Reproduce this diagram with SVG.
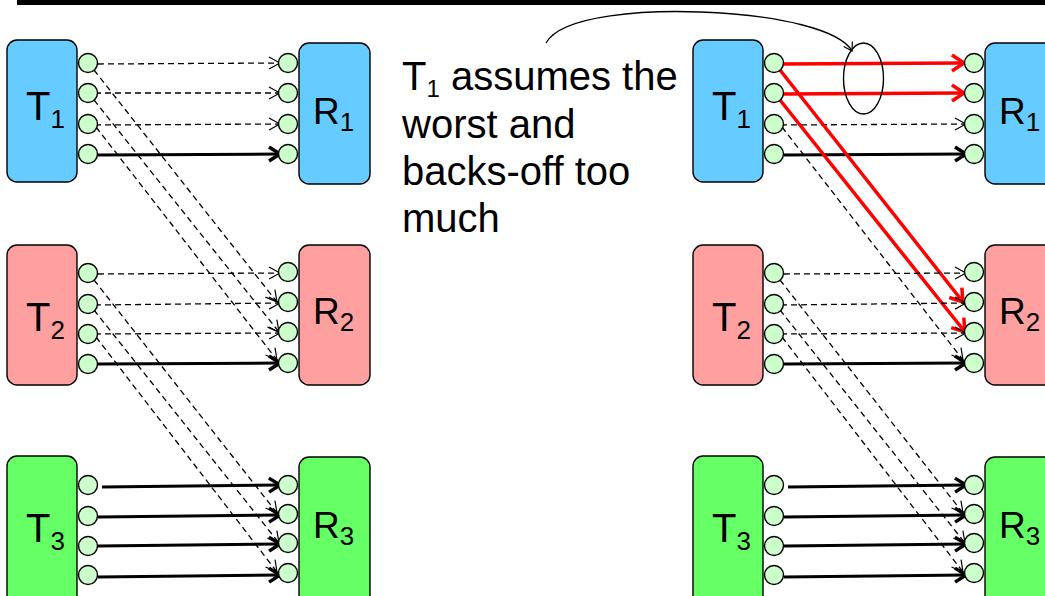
<svg xmlns="http://www.w3.org/2000/svg" width="1045" height="596" viewBox="0 0 1045 596">
<style>
.box{stroke:#000;stroke-width:1.4}
.tb{fill:#66ccff}.pb{fill:#ffa0a0}.gb{fill:#66ff66}
.port{fill:#ccffcc;stroke:#000;stroke-width:1.4}
.lbl{font-family:"Liberation Sans",Arial,sans-serif;fill:#000}
.d{fill:none;stroke:#000;stroke-width:1.3;stroke-dasharray:6 4;marker-end:url(#mt)}
.s{fill:none;stroke:#000;stroke-width:3;marker-end:url(#mk)}
.r{fill:none;stroke:#ff0000;stroke-width:3.5;marker-end:url(#mr)}
</style>
<defs>
<marker id="mt" markerUnits="userSpaceOnUse" markerWidth="14" markerHeight="14" refX="11" refY="6" orient="auto" overflow="visible">
<path d="M0,0 L11,6 L0,12" fill="none" stroke="#000" stroke-width="1.2"/>
</marker>
<marker id="mk" markerUnits="userSpaceOnUse" markerWidth="16" markerHeight="16" refX="11" refY="7" orient="auto" overflow="visible">
<path d="M0,0 L11,7 L0,14" fill="none" stroke="#000" stroke-width="3.5"/>
</marker>
<marker id="mr" markerUnits="userSpaceOnUse" markerWidth="18" markerHeight="18" refX="12" refY="8" orient="auto" overflow="visible">
<path d="M0,0 L12,8 L0,16" fill="none" stroke="#ff0000" stroke-width="3.5"/>
</marker>
<marker id="mc" markerUnits="userSpaceOnUse" markerWidth="14" markerHeight="14" refX="8" refY="5" orient="auto" overflow="visible">
<path d="M0,0 L8,5 L0,10" fill="none" stroke="#000" stroke-width="1.2"/>
</marker>
</defs>
<line x1="17" y1="2.5" x2="1045" y2="2.5" stroke="#000" stroke-width="5"/>

<g id="connectors">
<g id="left-conn">
<path class="d" d="M98,64 L280,63"/>
<path class="d" d="M95,93 L280,93"/>
<path class="d" d="M95,125 L280,124"/>
<path class="s" d="M98,155 L280,154"/>
<path class="d" d="M98,274 L280,273"/>
<path class="d" d="M95,305 L280,303"/>
<path class="d" d="M95,334 L280,333"/>
<path class="s" d="M98,364 L280,363"/>
<path class="s" d="M102,487 L280,485"/>
<path class="s" d="M98,517 L280,515"/>
<path class="s" d="M98,546 L280,544"/>
<path class="s" d="M98,577 L280,575"/>
<path class="d" d="M94,70 L277,302"/>
<path class="d" d="M94,100 L279,332"/>
<path class="d" d="M96,127 L277,360"/>
<path class="d" d="M94,280 L277,513"/>
<path class="d" d="M94,310 L279,543"/>
<path class="d" d="M96,337 L277,572"/>
</g>
<g id="right-conn">
<path class="r" d="M780,64 L964,63"/>
<path class="r" d="M780,94 L964,93"/>
<path class="d" d="M781,125 L966,124"/>
<path class="s" d="M784,155 L966,154"/>
<path class="r" d="M780,70 L963,302"/>
<path class="r" d="M780,100 L965,332"/>
<path class="d" d="M782,127 L963,360"/>
<path class="d" d="M784,274 L966,273"/>
<path class="d" d="M781,305 L966,303"/>
<path class="d" d="M781,334 L966,333"/>
<path class="s" d="M784,364 L966,363"/>
<path class="s" d="M788,487 L966,485"/>
<path class="s" d="M784,517 L966,515"/>
<path class="s" d="M784,546 L966,544"/>
<path class="s" d="M784,577 L966,575"/>
<path class="d" d="M780,280 L963,513"/>
<path class="d" d="M780,310 L965,543"/>
<path class="d" d="M782,337 L963,572"/>
</g>
<ellipse id="bundle" cx="863.5" cy="78.5" rx="20" ry="35.5" fill="none" stroke="#000" stroke-width="1.4"/>
<path id="callout" d="M546,43 C562,14 650,10 700,12 C780,15 840,30 852,51" fill="none" stroke="#000" stroke-width="1.3" marker-end="url(#mc)"/>
</g>

<g id="L-T1"><rect class="box tb" x="7" y="40" width="70" height="142" rx="10"/>
<circle class="port" cx="88" cy="63" r="9.5"/><circle class="port" cx="88" cy="93" r="9.5"/><circle class="port" cx="88" cy="124" r="9.5"/><circle class="port" cx="88" cy="154" r="9.5"/>
<text class="lbl" x="26" y="120" font-size="40">T<tspan font-size="26" dy="8">1</tspan></text></g>
<g id="L-R1"><rect class="box tb" x="299" y="43" width="71" height="141" rx="10"/>
<circle class="port" cx="288" cy="63" r="9.5"/><circle class="port" cx="288" cy="93" r="9.5"/><circle class="port" cx="288" cy="124" r="9.5"/><circle class="port" cx="288" cy="154" r="9.5"/>
<text class="lbl" x="313" y="124" font-size="37">R<tspan font-size="26" dy="7">1</tspan></text></g>
<g id="L-T2"><rect class="box pb" x="7" y="245" width="70" height="140" rx="10"/>
<circle class="port" cx="88" cy="273" r="9.5"/><circle class="port" cx="88" cy="304" r="9.5"/><circle class="port" cx="88" cy="334" r="9.5"/><circle class="port" cx="88" cy="364" r="9.5"/>
<text class="lbl" x="26" y="331" font-size="40">T<tspan font-size="26" dy="8">2</tspan></text></g>
<g id="L-R2"><rect class="box pb" x="299" y="245" width="71" height="140" rx="10"/>
<circle class="port" cx="288" cy="272" r="9.5"/><circle class="port" cx="288" cy="302" r="9.5"/><circle class="port" cx="288" cy="332" r="9.5"/><circle class="port" cx="288" cy="363" r="9.5"/>
<text class="lbl" x="313" y="324" font-size="37">R<tspan font-size="26" dy="7">2</tspan></text></g>
<g id="L-T3"><rect class="box gb" x="7" y="456" width="70" height="150" rx="10"/>
<circle class="port" cx="88" cy="485" r="9.5"/><circle class="port" cx="88" cy="516" r="9.5"/><circle class="port" cx="88" cy="546" r="9.5"/><circle class="port" cx="88" cy="575" r="9.5"/>
<text class="lbl" x="26" y="542" font-size="40">T<tspan font-size="26" dy="8">3</tspan></text></g>
<g id="L-R3"><rect class="box gb" x="299" y="457" width="71" height="150" rx="10"/>
<circle class="port" cx="288" cy="485" r="9.5"/><circle class="port" cx="288" cy="514" r="9.5"/><circle class="port" cx="288" cy="543" r="9.5"/><circle class="port" cx="288" cy="573" r="9.5"/>
<text class="lbl" x="313" y="538" font-size="37">R<tspan font-size="26" dy="7">3</tspan></text></g>

<g id="R-T1"><rect class="box tb" x="693" y="40" width="70" height="142" rx="10"/>
<circle class="port" cx="774" cy="63" r="9.5"/><circle class="port" cx="774" cy="93" r="9.5"/><circle class="port" cx="774" cy="124" r="9.5"/><circle class="port" cx="774" cy="154" r="9.5"/>
<text class="lbl" x="712" y="120" font-size="40">T<tspan font-size="26" dy="8">1</tspan></text></g>
<g id="R-R1"><rect class="box tb" x="985" y="43" width="71" height="141" rx="10"/>
<circle class="port" cx="974" cy="63" r="9.5"/><circle class="port" cx="974" cy="93" r="9.5"/><circle class="port" cx="974" cy="124" r="9.5"/><circle class="port" cx="974" cy="154" r="9.5"/>
<text class="lbl" x="999" y="124" font-size="37">R<tspan font-size="26" dy="7">1</tspan></text></g>
<g id="R-T2"><rect class="box pb" x="693" y="245" width="70" height="140" rx="10"/>
<circle class="port" cx="774" cy="273" r="9.5"/><circle class="port" cx="774" cy="304" r="9.5"/><circle class="port" cx="774" cy="334" r="9.5"/><circle class="port" cx="774" cy="364" r="9.5"/>
<text class="lbl" x="712" y="331" font-size="40">T<tspan font-size="26" dy="8">2</tspan></text></g>
<g id="R-R2"><rect class="box pb" x="985" y="245" width="71" height="140" rx="10"/>
<circle class="port" cx="974" cy="272" r="9.5"/><circle class="port" cx="974" cy="302" r="9.5"/><circle class="port" cx="974" cy="332" r="9.5"/><circle class="port" cx="974" cy="363" r="9.5"/>
<text class="lbl" x="999" y="324" font-size="37">R<tspan font-size="26" dy="7">2</tspan></text></g>
<g id="R-T3"><rect class="box gb" x="693" y="456" width="70" height="150" rx="10"/>
<circle class="port" cx="774" cy="485" r="9.5"/><circle class="port" cx="774" cy="516" r="9.5"/><circle class="port" cx="774" cy="546" r="9.5"/><circle class="port" cx="774" cy="575" r="9.5"/>
<text class="lbl" x="712" y="542" font-size="40">T<tspan font-size="26" dy="8">3</tspan></text></g>
<g id="R-R3"><rect class="box gb" x="985" y="457" width="71" height="150" rx="10"/>
<circle class="port" cx="974" cy="485" r="9.5"/><circle class="port" cx="974" cy="514" r="9.5"/><circle class="port" cx="974" cy="543" r="9.5"/><circle class="port" cx="974" cy="573" r="9.5"/>
<text class="lbl" x="999" y="538" font-size="37">R<tspan font-size="26" dy="7">3</tspan></text></g>

<g id="note">
<text class="lbl" x="402" y="90" font-size="40">T<tspan font-size="24" dy="7">1</tspan><tspan dy="-7"> assumes the</tspan></text>
<text class="lbl" x="402" y="138" font-size="40">worst and</text>
<text class="lbl" x="402" y="185" font-size="40">backs-off too</text>
<text class="lbl" x="402" y="232" font-size="40">much</text>
</g>
</svg>
